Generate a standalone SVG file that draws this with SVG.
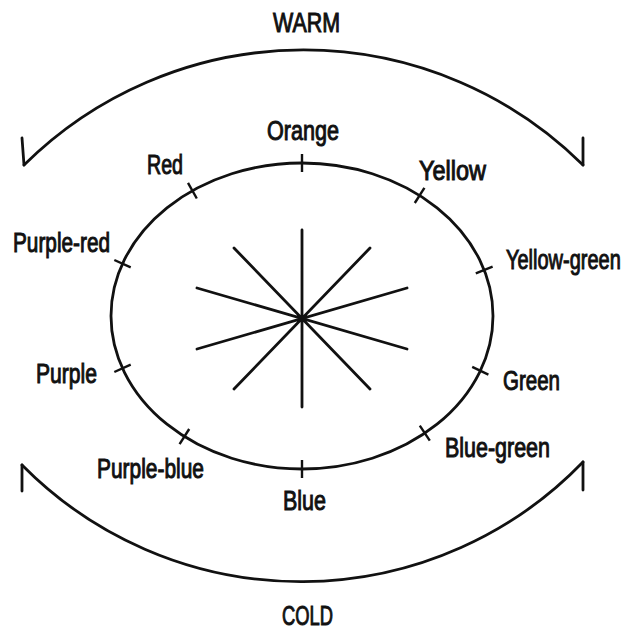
<svg xmlns="http://www.w3.org/2000/svg" width="635" height="632" viewBox="0 0 635 632">
<style>
.ln{fill:none;stroke:#111;stroke-width:2.8;stroke-linecap:round}
.tk{fill:none;stroke:#111;stroke-width:2.4}
.lb{font-family:"Liberation Sans",Arial,sans-serif;font-size:27px;fill:#111;stroke:#111;stroke-width:1}
</style>
<rect width="635" height="632" fill="#fff"/>
<g id="warm-bracket">
<path class="ln" d="M24,165 A397,397 0 0 1 583,165"/>
<path class="ln" d="M24,165 L22,138 M583,165 L583,138"/>
<text class="lb" x="273" y="32" textLength="67" lengthAdjust="spacingAndGlyphs">WARM</text>
</g>
<g id="cold-bracket">
<path class="ln" d="M22,465 A392,392 0 0 0 583,462"/>
<path class="ln" d="M22,465 L22,491 M583,462 L583,490"/>
<text class="lb" x="282" y="625" textLength="51" lengthAdjust="spacingAndGlyphs">COLD</text>
</g>
<g id="wheel">
<ellipse class="ln" cx="302" cy="316" rx="191" ry="153"/>
</g>
<g id="spokes">
<path class="ln" d="M302,230 L302,407 M234,248 L370,389 M370,248 L234,389 M197,288 L407,349 M407,288 L197,349"/>
</g>
<g id="connectors">
<path class="tk" d="M302,154 L302,172"/>
<path class="tk" d="M424.4,187.8 L414.8,203"/>
<path class="tk" d="M492.6,266.7 L475.8,273.3"/>
<path class="tk" d="M488.4,374.7 L472.2,366.9"/>
<path class="tk" d="M429.8,440.7 L419.8,425.7"/>
<path class="tk" d="M302,460 L302,478"/>
<path class="tk" d="M179.6,444.2 L189.2,429"/>
<path class="tk" d="M114.3,372 L130.7,364.6"/>
<path class="tk" d="M114.3,260 L130.7,267.4"/>
<path class="tk" d="M188,182.9 L196.8,198.5"/>
</g>
<g id="orange"><text class="lb" x="267" y="140" textLength="72" lengthAdjust="spacingAndGlyphs">Orange</text></g>
<g id="yellow"><text class="lb" x="419" y="180" textLength="67" lengthAdjust="spacingAndGlyphs">Yellow</text></g>
<g id="yellow-green"><text class="lb" transform="translate(506,269) scale(0.74,1)" x="0" y="0">Yellow-green</text></g>
<g id="green"><text class="lb" x="503" y="390" textLength="57" lengthAdjust="spacingAndGlyphs">Green</text></g>
<g id="blue-green"><text class="lb" x="445" y="457" textLength="105" lengthAdjust="spacingAndGlyphs">Blue-green</text></g>
<g id="blue"><text class="lb" x="283" y="510" textLength="43" lengthAdjust="spacingAndGlyphs">Blue</text></g>
<g id="purple-blue"><text class="lb" x="97" y="478" textLength="107" lengthAdjust="spacingAndGlyphs">Purple-blue</text></g>
<g id="purple"><text class="lb" x="36" y="383" textLength="61" lengthAdjust="spacingAndGlyphs">Purple</text></g>
<g id="purple-red"><text class="lb" x="13" y="252" textLength="97" lengthAdjust="spacingAndGlyphs">Purple-red</text></g>
<g id="red"><text class="lb" x="147" y="174" textLength="36" lengthAdjust="spacingAndGlyphs">Red</text></g>
</svg>
